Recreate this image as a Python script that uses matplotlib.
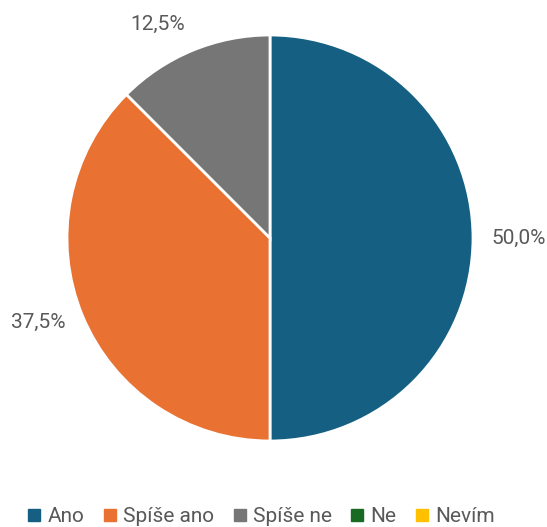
import numpy as np
import matplotlib
matplotlib.use("Agg")
import matplotlib.pyplot as plt
from matplotlib.lines import Line2D

plt.rcParams["font.family"] = ["Roboto", "DejaVu Sans"]

categories = ["Ano", "Spíše ano", "Spíše ne", "Ne", "Nevím"]
shares = [50.0, 37.5, 12.5, 0.0, 0.0]
colors = ["#156082", "#E97132", "#767676", "#196B24", "#FFC000"]

W, H = 547, 527
fig = plt.figure(figsize=(W / 100, H / 100), dpi=100)
fig.patch.set_facecolor("white")

# pie sits in a square box, 203 px radius, centred at (270, 238) from top-left
cx, cy, r = 270, 238, 203
ax = fig.add_axes([(cx - r) / W, (H - cy - r) / H, 2 * r / W, 2 * r / H])

shown = [(v, c) for v, c in zip(shares, colors) if v > 0]
wedges, _ = ax.pie(
    [v for v, _ in shown],
    colors=[c for _, c in shown],
    startangle=90,
    counterclock=False,
    radius=1.0,
    wedgeprops=dict(edgecolor="white", linewidth=2),
)
ax.set_xlim(-1, 1)
ax.set_ylim(-1, 1)
ax.set_aspect("equal")
ax.axis("off")

# percentage labels just outside each slice
for w, (v, _) in zip(wedges, shown):
    mid = np.deg2rad((w.theta1 + w.theta2) / 2)
    x, y = np.cos(mid) * 1.09, np.sin(mid) * 1.09
    ha = "left" if x > 0.3 else ("right" if x < -0.3 else "center")
    va = "bottom" if y > 0.5 else ("top" if y < -0.5 else "center")
    ax.text(x, y, f"{v:.1f}".replace(".", ",") + "%", ha=ha, va=va,
            fontsize=15, color="#595959", clip_on=False)

handles = [Line2D([], [], marker="s", linestyle="none", markersize=8,
                  markerfacecolor=c, markeredgecolor=c) for c in colors]
fig.legend(handles, categories, loc="center", bbox_to_anchor=(0.478, 1 - 517 / H),
           ncol=5, frameon=False, fontsize=15, labelcolor="#595959",
           handlelength=0.6, handletextpad=0.35, columnspacing=0.9)

fig.savefig("out.png", dpi=100, facecolor="white")
